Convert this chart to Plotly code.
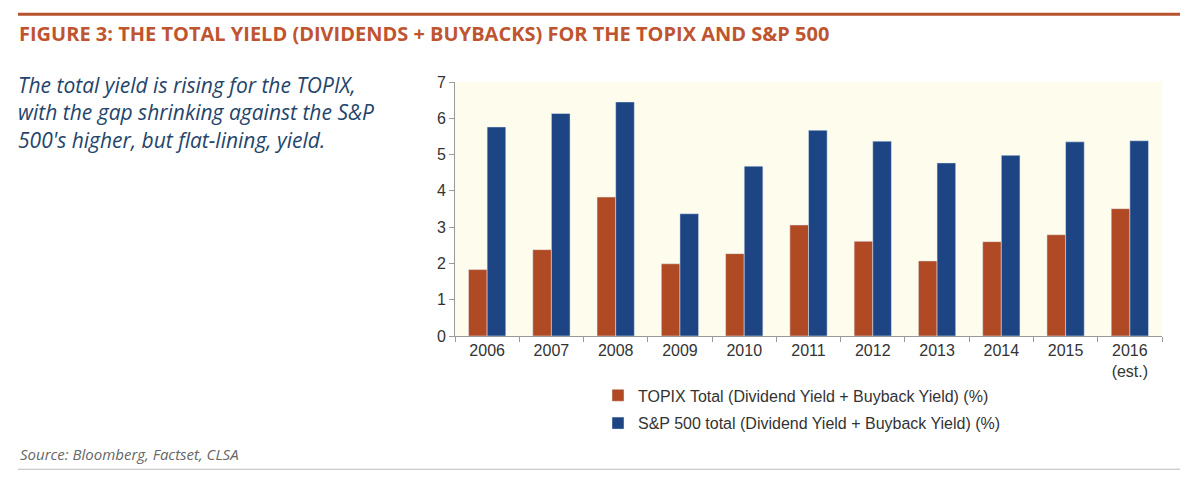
import plotly.graph_objects as go

years = ['2006', '2007', '2008', '2009', '2010', '2011', '2012', '2013', '2014', '2015', '2016<br>(est.)']
topix = [1.83, 2.38, 3.83, 1.99, 2.27, 3.06, 2.61, 2.07, 2.60, 2.79, 3.51]
sp500 = [5.76, 6.13, 6.45, 3.37, 4.68, 5.67, 5.37, 4.77, 4.98, 5.35, 5.38]

topix_name = 'TOPIX Total (Dividend Yield + Buyback Yield) (%)'
sp_name = 'S&P 500 total (Dividend Yield + Buyback Yield) (%)'
subtitle = ['The total yield is rising for the TOPIX,',
            'with the gap shrinking against the S&P',
            "500's higher, but flat-lining, yield."]

# page body has an 8px margin, so work in screen pixels and shift back
OFF = 8
L, R, T, B = 455 - OFF, 1162 - OFF, 82 - OFF, 336.5 - OFF
W, H = R - L, B - T


def px(x):
    return (x - OFF - L) / W


def py(y):
    return (B - (y - OFF)) / H


fig = go.Figure()
fig.add_trace(go.Bar(x=years, y=topix, name=topix_name, legendgroup='a', marker_color='#B04A24'))
fig.add_trace(go.Bar(x=years, y=sp500, name=sp_name, legendgroup='b', marker_color='#1D4483'))

fig.update_layout(
    width=1200, height=490,
    margin=dict(l=L, r=1200 - R, t=T, b=490 - B),
    paper_bgcolor='white', plot_bgcolor='#FEFCEC',
    barmode='group', bargap=0.42, bargroupgap=0,
    font=dict(family='Liberation Sans, Arial', size=16, color='#333333'),
    legend=dict(x=px(598), y=py(379), xanchor='left', yanchor='top',
                font=dict(size=16, color='#333333'), tracegroupgap=4,
                bgcolor='rgba(0,0,0,0)'),
)
fig.update_xaxes(showline=True, linecolor='#999999', ticks='outside', tickson='boundaries',
                 ticklen=5, tickcolor='#999999', showgrid=False)
fig.update_yaxes(range=[0, 7], dtick=1, showline=True, linecolor='#999999', ticks='outside',
                 ticklen=5, tickcolor='#999999', showgrid=False, zeroline=False)

# rules top and bottom
fig.add_shape(type='line', xref='paper', yref='paper', x0=px(18), x1=px(1180), y0=py(14), y1=py(14),
              line=dict(color='#B5532F', width=3))
fig.add_shape(type='line', xref='paper', yref='paper', x0=px(18), x1=px(1180), y0=py(470), y1=py(470),
              line=dict(color='#BBBBBB', width=1))

fig.add_annotation(xref='paper', yref='paper', x=px(17), y=py(33), xanchor='left', yanchor='middle',
                   showarrow=False,
                   text='<b>FIGURE 3: THE TOTAL YIELD (DIVIDENDS + BUYBACKS) FOR THE TOPIX AND S&P 500</b>',
                   font=dict(family='Open Sans', size=20, color='#BF5530'))
fig.add_annotation(xref='paper', yref='paper', x=px(16), y=py(113), xanchor='left', yanchor='middle',
                   showarrow=False, align='left', text='<i>' + '<br>'.join(subtitle) + '</i>',
                   font=dict(family='Open Sans', size=21, color='#24456B'))
fig.add_annotation(xref='paper', yref='paper', x=px(18), y=py(455), xanchor='left', yanchor='middle',
                   showarrow=False, text='<i>Source: Bloomberg, Factset, CLSA</i>',
                   font=dict(family='Open Sans', size=15, color='#666666'))

fig.write_html('out.html')
